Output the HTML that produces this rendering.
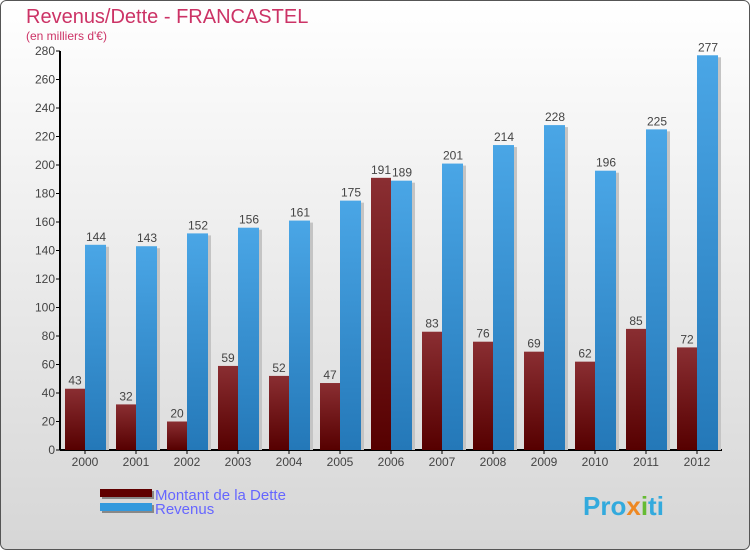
<!DOCTYPE html>
<html><head><meta charset="utf-8"><style>
body{margin:0;}
svg text{font-family:"Liberation Sans","DejaVu Sans",sans-serif;}
</style></head><body>
<svg width="750" height="550" xmlns="http://www.w3.org/2000/svg">
<defs>
<linearGradient id="bg" x1="0" y1="0" x2="0" y2="1"><stop offset="0" stop-color="#ffffff"/><stop offset="1" stop-color="#d6d6d6"/></linearGradient>
<linearGradient id="gd" x1="0" y1="0" x2="0" y2="1"><stop offset="0" stop-color="#8a2e32"/><stop offset="1" stop-color="#560000"/></linearGradient>
<linearGradient id="gr" x1="0" y1="0" x2="0" y2="1"><stop offset="0" stop-color="#4aa6e6"/><stop offset="1" stop-color="#2478b8"/></linearGradient>
</defs>
<rect x="0.5" y="0.5" width="749" height="549" rx="6" fill="url(#bg)" stroke="#555"/>
<text x="26" y="23" font-size="20" fill="#cc3366">Revenus/Dette - FRANCASTEL</text>
<text x="26" y="40" font-size="12" fill="#cc3366">(en milliers d'€)</text>
<g id="axes"></g>
<g id="bars"></g>
<g>
<rect x="102" y="491" width="52" height="8" fill="#888"/>
<rect x="100" y="489" width="52" height="8" fill="#600000"/>
<text x="155" y="500" font-size="15" fill="#6666ff">Montant de la Dette</text>
<rect x="102" y="505" width="52" height="8" fill="#888"/>
<rect x="100" y="503" width="52" height="8" fill="#3399dd"/>
<text x="155" y="514" font-size="15" fill="#6666ff">Revenus</text>
</g>
<text x="583" y="515" font-size="26" font-weight="bold" fill="#33aadd">Pro<tspan fill="#ee8822">x</tspan><tspan fill="#66bb33">i</tspan>ti</text>
<script>
const years=["2000","2001","2002","2003","2004","2005","2006","2007","2008","2009","2010","2011","2012"];
const debt=[43,32,20,59,52,47,191,83,76,69,62,85,72];
const revenue=[144,143,152,156,161,175,189,201,214,228,196,225,277];
const yTicks=[0,20,40,60,80,100,120,140,160,180,200,220,240,260,280];
const NS="http://www.w3.org/2000/svg";
const y0=450,yTop=51,yMax=280,x0=60,x1=722;
function y(v){return y0-(y0-yTop)*v/yMax;}
function cx(i){return 85+i*51;}
function mk(tag,attrs,parent){const e=document.createElementNS(NS,tag);for(const k in attrs)e.setAttribute(k,attrs[k]);parent.appendChild(e);return e;}
const ax=document.getElementById('axes'),bars=document.getElementById('bars');
yTicks.forEach(t=>{
  const l=mk('line',{x1:x0-4,x2:x0,y1:y(t),y2:y(t),stroke:'#000'},ax);
  
  
  const tx=mk('text',{x:x0-5,y:y(t)+4,'font-size':12,'text-anchor':'end',fill:'#444'},ax);
  tx.textContent=t;
  
  
});
const yl=mk('line',{x1:x0,x2:x0,y1:yTop,y2:y0,stroke:'#000','stroke-width':2},ax);


years.forEach((yr,i)=>{
  const c=cx(i);
  const d=debt[i],r=revenue[i];
  mk('rect',{x:c+21,y:y(r)+2,width:3,height:y0-y(r)-2,fill:'#c4c4c4'},bars);
  const br=mk('rect',{x:c,y:y(r),width:21,height:y0-y(r),fill:'url(#gr)'},bars);
  
  
  const bd=mk('rect',{x:c-20,y:y(d),width:20,height:y0-y(d),fill:'url(#gd)'},bars);
  
  
  const td=mk('text',{x:c-10,y:y(d)-4,'font-size':12,'text-anchor':'middle',fill:'#444'},bars);
  td.textContent=d;
  
  
  const tr=mk('text',{x:c+11,y:y(r)-4,'font-size':12,'text-anchor':'middle',fill:'#444'},bars);
  tr.textContent=r;
  
  
  const tk=mk('line',{x1:c,x2:c,y1:y0,y2:y0+4,stroke:'#000'},ax);
  
  
  const xl=mk('text',{x:c,y:y0+16,'font-size':12,'text-anchor':'middle',fill:'#444'},ax);
  xl.textContent=yr;
  
  
});
const xa=mk('line',{x1:x0,x2:x1,y1:y0,y2:y0,stroke:'#000','stroke-width':2},ax);


</script>
</svg>
</body></html>
